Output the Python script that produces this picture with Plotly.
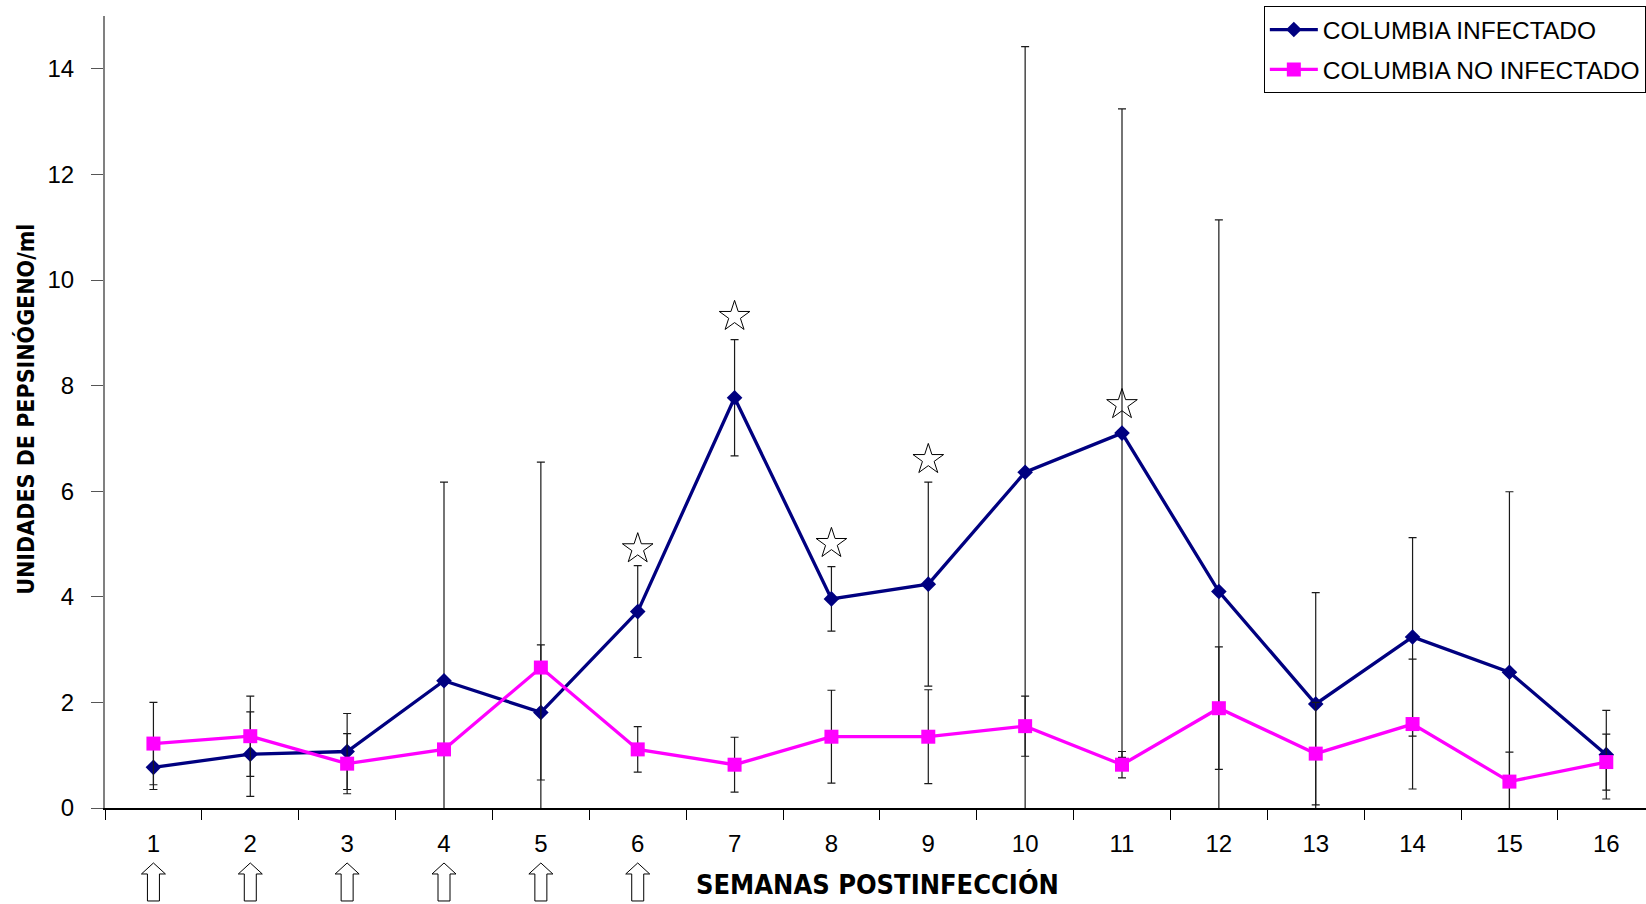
import plotly.graph_objects as go

# Weeks after infection
weeks = [str(w) for w in range(1, 17)]

# Pepsinogen units/ml, infected group (mean and SD)
infectado = [0.77, 1.02, 1.07, 2.41, 1.81, 3.72, 7.77, 3.96, 4.24, 6.36, 7.10, 4.10, 1.97, 3.24, 2.57, 1.01]
infectado_sd = [0.42, 0.80, 0.72, 3.76, 1.28, 0.87, 1.10, 0.61, 1.93, 8.06, 6.14, 7.04, 2.11, 1.88, 3.42, 0.84]

# Pepsinogen units/ml, non-infected group (mean and SD)
no_infectado = [1.22, 1.36, 0.84, 1.11, 2.66, 1.11, 0.82, 1.35, 1.35, 1.55, 0.82, 1.89, 1.03, 1.59, 0.50, 0.87]
no_infectado_sd = [0.78, 0.76, 0.57, 0.0, 3.89, 0.43, 0.52, 0.88, 0.89, 0.57, 0.25, 1.16, 0.97, 1.23, 0.56, 0.53]

# Weeks with significant differences and height of the star marks
sig_weeks = ["6", "7", "8", "9", "11"]
sig_y = [4.91, 9.31, 5.01, 6.60, 7.64]

# Weeks in which the animals were dosed
dose_weeks = ["1", "2", "3", "4", "5", "6"]

NAVY = "#000080"
MAGENTA = "#FF00FF"
FONT = "Liberation Sans, Arial, sans-serif"
NARROW = "Liberation Sans Narrow, Arial Narrow, DejaVu Sans Condensed, Liberation Sans, Arial, sans-serif"

# Outline of an open block arrow pointing up (pixels around its anchor)
ARROW_PATH = "M 0 19 L 12 8 L 6 8 L 6 -19 L -6 -19 L -6 8 L -12 8 Z"

fig = go.Figure()

fig.add_trace(go.Scatter(
    x=weeks, y=infectado, name="COLUMBIA INFECTADO", legendgroup="inf",
    mode="lines+markers",
    line=dict(color=NAVY, width=3.3),
    marker=dict(symbol="diamond", size=12, color=NAVY),
    error_y=dict(type="data", array=infectado_sd, visible=True,
                 color="#1a1a1a", thickness=1.2, width=4),
))

fig.add_trace(go.Scatter(
    x=weeks, y=no_infectado, name="COLUMBIA NO INFECTADO", legendgroup="noinf",
    mode="lines+markers",
    line=dict(color=MAGENTA, width=3.3),
    marker=dict(symbol="square", size=14, color=MAGENTA),
    error_y=dict(type="data", array=no_infectado_sd, visible=True,
                 color="#1a1a1a", thickness=1.2, width=4),
))

fig.add_trace(go.Scatter(
    x=sig_weeks, y=sig_y, mode="markers", showlegend=False, hoverinfo="skip",
    marker=dict(symbol="star-open", size=23, color="black", line=dict(width=1)),
))

# Dosing arrows under the week labels
for w in dose_weeks:
    fig.add_shape(
        type="path", path=ARROW_PATH,
        xref="x", xsizemode="pixel", xanchor=weeks.index(w),
        yref="paper", ysizemode="pixel", yanchor=-0.0934,
        line=dict(color="black", width=1), fillcolor="white",
    )

fig.add_annotation(
    x=0.5016, xref="paper", y=-0.097, yref="paper",
    text="<b>SEMANAS POSTINFECCIÓN</b>", showarrow=False,
    font=dict(family=NARROW, size=27, color="black"),
    xanchor="center", yanchor="middle",
)
fig.add_annotation(
    x=-0.0513, xref="paper", y=0.504, yref="paper",
    text="<b>UNIDADES DE PEPSINÓGENO/ml</b>", showarrow=False, textangle=-90,
    font=dict(family=NARROW, size=23, color="black"),
    xanchor="center", yanchor="middle",
)

fig.update_layout(
    width=1646, height=904,
    margin=dict(l=105, r=0, t=16, b=96),
    paper_bgcolor="white", plot_bgcolor="white",
    font=dict(family=FONT, color="black"),
    legend=dict(
        x=0.752, xanchor="left", y=1.0125, yanchor="top",
        bgcolor="white", bordercolor="black", borderwidth=1,
        font=dict(family=FONT, size=24.5, color="black"),
        tracegroupgap=5, itemwidth=48,
    ),
    xaxis=dict(
        type="category", categoryorder="array", categoryarray=weeks,
        range=[-0.5, 15.41], tickson="boundaries",
        ticks="outside", ticklen=10, tickcolor="black", tickwidth=1.2,
        showline=True, linecolor="black", linewidth=1.5,
        showgrid=False, zeroline=False,
        tickfont=dict(family=FONT, size=24, color="black"),
        ticklabelstandoff=13,
    ),
    yaxis=dict(
        range=[0, 15], tickvals=[0, 2, 4, 6, 8, 10, 12, 14],
        ticks="outside", ticklen=12, tickcolor="#555555", tickwidth=1.2,
        showline=True, linecolor="#808080", linewidth=2,
        showgrid=False, zeroline=False,
        tickfont=dict(family=FONT, size=24, color="black"),
        ticklabelstandoff=12,
    ),
)

fig.write_html("out.html")
